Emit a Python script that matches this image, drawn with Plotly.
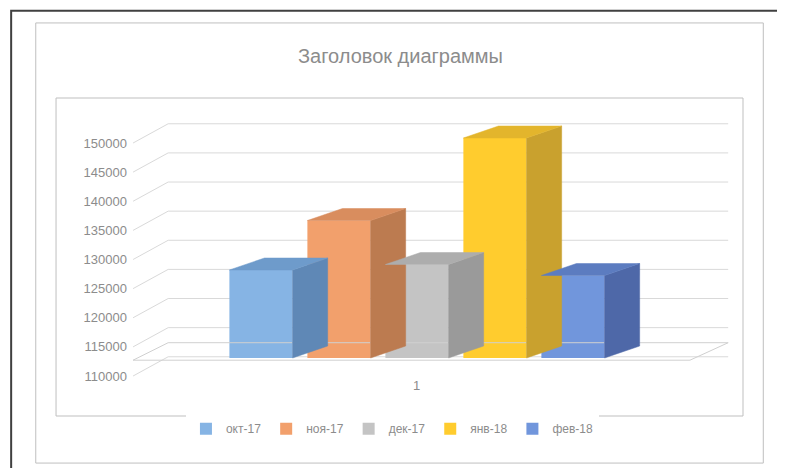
import plotly.graph_objects as go

categories = ["окт-17", "ноя-17", "дек-17", "янв-18", "фев-18"]
values = [126000, 135000, 127000, 150000, 125000]
front_colors = ["#86B4E4", "#F2A06C", "#C4C4C4", "#FFCC2E", "#7196DC"]
side_colors = ["#5F88B6", "#BC7B50", "#9A9A9A", "#C9A12E", "#4E68A8"]
top_colors = ["#6E9BCB", "#D98D5E", "#ADADAD", "#E3B52C", "#5C7CC0"]
tick_vals = list(range(110000, 150001, 5000))

BASE = 110000
W = 0.81
DX = 0.45
DY = 2180

fig = go.Figure()

for v in tick_vals:
    fig.add_trace(go.Scatter(x=[-1.64, -1.19, 5.99], y=[v, v + 3300, v + 3300], mode="lines",
                             line=dict(color="#D9D9D9", width=1), yaxis="y", hoverinfo="skip", showlegend=False))

fig.add_trace(go.Scatter(x=[-1.64, 5.5, 5.99, -1.19, -1.64], y=[BASE - 400, BASE - 400, BASE + DY + 600, BASE + DY + 600, BASE - 400],
                         mode="lines", line=dict(color="#D0D0D0", width=1), yaxis="y2", hoverinfo="skip", showlegend=False))

for i, (c, v) in enumerate(zip(categories, values)):
    l, r = i - W / 2, i + W / 2
    fig.add_trace(go.Scatter(x=[r, r + DX, r + DX, r, r], y=[BASE, BASE + DY, v + DY, v, BASE], mode="lines",
                             fill="toself", fillcolor=side_colors[i], line=dict(width=0.5, color=side_colors[i]),
                             yaxis="y2", hoverinfo="skip", showlegend=False))
    fig.add_trace(go.Scatter(x=[l, r, r + DX, l + DX, l], y=[v, v, v + DY, v + DY, v], mode="lines",
                             fill="toself", fillcolor=top_colors[i], line=dict(width=0.5, color=top_colors[i]),
                             yaxis="y2", hoverinfo="skip", showlegend=False))
    fig.add_trace(go.Bar(x=[i], y=[v - BASE], base=BASE, width=W, name=c, marker=dict(color=front_colors[i], line=dict(width=0)),
                         yaxis="y2"))

fig.update_layout(
    width=785, height=468,
    paper_bgcolor="white", plot_bgcolor="rgba(0,0,0,0)",
    margin=dict(l=120, r=50, t=90, b=60),
    title=dict(text="Заголовок диаграммы", x=0.5, y=0.897, xanchor="center", yanchor="middle",
               font=dict(family="Liberation Sans, Arial", size=20, color="#8C8C8C")),
    font=dict(family="Liberation Sans, Arial", color="#8C8C8C", size=13),
    xaxis=dict(range=[-1.705, 6.18], showticklabels=False, showgrid=False, zeroline=False, fixedrange=True),
    yaxis=dict(range=[103133, 157725], tickvals=tick_vals, tickformat="d", showgrid=False, zeroline=False,
               tickfont=dict(size=13, color="#8C8C8C")),
    yaxis2=dict(range=[99455, 157273], overlaying="y", visible=False),
    barmode="overlay",
    legend=dict(orientation="h", x=0.43, xanchor="center", y=-0.04, yanchor="middle",
                font=dict(size=12, color="#8C8C8C"), itemwidth=30),
    showlegend=True,
    shapes=[
        dict(type="rect", xref="paper", yref="paper", x0=-0.15, x1=1.033, y0=-0.148, y1=1.236,
             line=dict(color="#BFBFBF", width=1)),
        dict(type="rect", xref="paper", yref="paper", x0=-0.117, x1=1.0, y0=0, y1=1.0,
             line=dict(color="#BFBFBF", width=1)),
        dict(type="rect", xref="paper", yref="paper", x0=-0.19, x1=1.076, y0=-0.179, y1=1.274,
             line=dict(color="#404040", width=2)),
    ],
    annotations=[dict(text="1", x=2.0, y=0.066, xref="x", yref="paper", showarrow=False,
                      font=dict(size=13, color="#8C8C8C"))],
)

fig.write_html("out.html")
